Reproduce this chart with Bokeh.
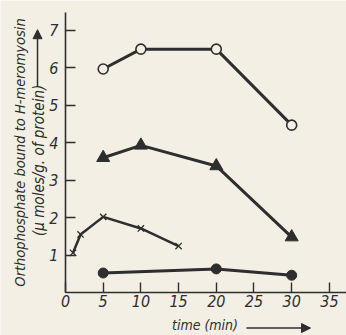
import math
from bokeh.plotting import figure
from bokeh.models import Range1d, FixedTicker, Label, Arrow, NormalHead
from bokeh.embed import file_html
from bokeh.resources import INLINE

# data (time in min, orthophosphate bound in µmoles/g protein)
t_open = [5, 10, 20, 30]
v_open = [5.97, 6.5, 6.5, 4.47]
t_tri = [5, 10, 20, 30]
v_tri = [3.6, 3.93, 3.38, 1.48]
t_cross = [1, 2, 5, 10, 15]
v_cross = [1.06, 1.55, 2.02, 1.71, 1.24]
t_fill = [5, 20, 30]
v_fill = [0.52, 0.63, 0.46]
x_ticks = [0, 5, 10, 15, 20, 25, 30, 35]
y_ticks = [1, 2, 3, 4, 5, 6, 7]

BG = "#f3efe4"
INK = "#2e2e2e"
FONT = "DejaVu Sans Condensed, Liberation Sans Narrow, DejaVu Sans"

p = figure(width=346, height=335, output_backend="svg", toolbar_location=None,
           x_range=Range1d(-8.62, 37.27), y_range=Range1d(-1.149, 7.80),
           min_border=0)
p.background_fill_color = BG
p.border_fill_color = BG
p.outline_line_color = None
p.grid.visible = False

for ax in (p.xaxis[0], p.yaxis[0]):
    ax.fixed_location = 0
    ax.axis_line_color = INK
    ax.axis_line_width = 1.6
    ax.major_tick_line_color = INK
    ax.major_tick_line_width = 1.4
    ax.major_tick_in = 10
    ax.major_tick_out = 0
    ax.minor_tick_line_color = None
    ax.major_label_text_font = FONT
    ax.major_label_text_font_style = "italic"
    ax.major_label_text_font_size = "16px"
    ax.major_label_text_color = INK
p.xaxis.bounds = (0, 37.27)
p.yaxis.bounds = (0, 7.48)
p.xaxis.ticker = FixedTicker(ticks=x_ticks)
p.yaxis.ticker = FixedTicker(ticks=y_ticks)
p.xaxis.major_label_standoff = 3
p.yaxis.major_label_standoff = 7

lw = 3
p.line(t_open, v_open, line_color=INK, line_width=lw)
p.scatter(t_open, v_open, marker="circle", size=10, fill_color=BG, line_color=INK, line_width=1.6)
p.line(t_tri, v_tri, line_color=INK, line_width=lw)
p.scatter(t_tri, v_tri, marker="triangle", size=13, fill_color=INK, line_color=INK)
p.line(t_cross, v_cross, line_color=INK, line_width=2.5)
p.scatter(t_cross, v_cross, marker="x", size=9, line_color=INK, line_width=1.3)
p.line(t_fill, v_fill, line_color=INK, line_width=lw)
p.scatter(t_fill, v_fill, marker="circle", size=10, fill_color=INK, line_color=INK)

# axis titles drawn as labels with arrows
p.add_layout(Label(x=18.5, y=-0.86, text="time (min)", text_font=FONT, text_font_style="italic",
                   text_font_size="14px", text_align="center", text_baseline="middle", text_color=INK))
p.add_layout(Arrow(x_start=24.0, y_start=-0.95, x_end=32.5, y_end=-0.95, line_color=INK, line_width=1.5,
                   end=NormalHead(size=9, fill_color=INK, line_color=INK)))
p.add_layout(Label(x=-5.97, y=3.74, text="Orthophosphate bound to H-meromyosin", angle=math.pi / 2,
                   text_font=FONT, text_font_style="italic", text_font_size="14.5px",
                   text_align="center", text_baseline="middle", text_color=INK))
p.add_layout(Label(x=-3.5, y=3.53, text="(\u03bc moles/g. of protein)", angle=math.pi / 2,
                   text_font=FONT, text_font_style="italic", text_font_size="15px",
                   text_align="center", text_baseline="middle", text_color=INK))
p.add_layout(Arrow(x_start=-3.71, y_start=5.5, x_end=-3.71, y_end=7.02, line_color=INK, line_width=1.5,
                   end=NormalHead(size=9, fill_color=INK, line_color=INK)))

html = file_html(p, INLINE)
html = html.replace("<body>", '<body style="background:%s">' % BG, 1)
open("out.html", "w").write(html)
